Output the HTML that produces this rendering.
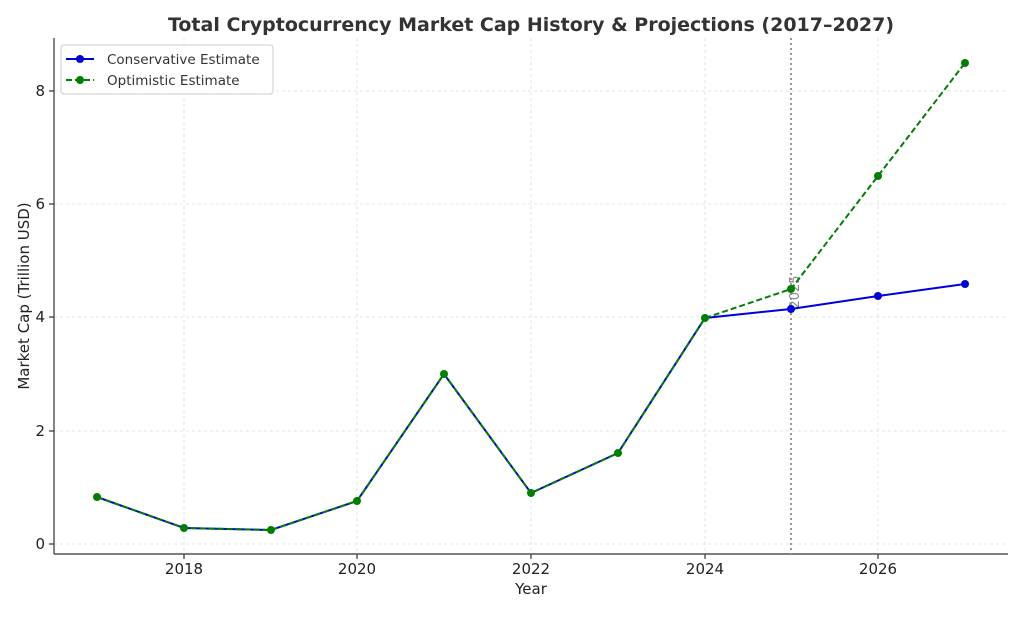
<!DOCTYPE html>
<html><head><meta charset="utf-8"><style>
body{margin:0;background:#fff;}
svg text{font-family:"DejaVu Sans","Liberation Sans",sans-serif;}
</style></head><body>
<svg width="1024" height="614" viewBox="0 0 1024 614" xmlns="http://www.w3.org/2000/svg">
<rect width="1024" height="614" fill="#fff"/>
<text x="531" y="31" text-anchor="middle" font-size="19" font-weight="bold" fill="#333">Total Cryptocurrency Market Cap History &amp; Projections (2017–2027)</text>
<g stroke="#ddd" stroke-width="0.8" stroke-dasharray="3,3">
<line x1="184" y1="38" x2="184" y2="554"/><line x1="357" y1="38" x2="357" y2="554"/>
<line x1="531" y1="38" x2="531" y2="554"/><line x1="705" y1="38" x2="705" y2="554"/>
<line x1="878" y1="38" x2="878" y2="554"/>
<line x1="54" y1="544" x2="1008" y2="544"/><line x1="54" y1="431" x2="1008" y2="431"/>
<line x1="54" y1="317" x2="1008" y2="317"/><line x1="54" y1="204" x2="1008" y2="204"/>
<line x1="54" y1="91" x2="1008" y2="91"/>
</g>
<g stroke="#333" stroke-width="1.2">
<line x1="54" y1="38" x2="54" y2="554"/><line x1="54" y1="554" x2="1008" y2="554"/>
<line x1="184" y1="554" x2="184" y2="559"/><line x1="357" y1="554" x2="357" y2="559"/>
<line x1="531" y1="554" x2="531" y2="559"/><line x1="705" y1="554" x2="705" y2="559"/>
<line x1="878" y1="554" x2="878" y2="559"/>
<line x1="49" y1="544" x2="54" y2="544"/><line x1="49" y1="431" x2="54" y2="431"/>
<line x1="49" y1="317" x2="54" y2="317"/><line x1="49" y1="204" x2="54" y2="204"/>
<line x1="49" y1="91" x2="54" y2="91"/>
</g>
<g font-size="15" fill="#222" text-anchor="middle">
<text x="184" y="574">2018</text><text x="357" y="574">2020</text><text x="531" y="574">2022</text>
<text x="705" y="574">2024</text><text x="878" y="574">2026</text>
</g>
<g font-size="15" fill="#222" text-anchor="end">
<text x="45" y="549">0</text><text x="45" y="436">2</text><text x="45" y="322">4</text>
<text x="45" y="209">6</text><text x="45" y="96">8</text>
</g>
<text x="531" y="594" text-anchor="middle" font-size="15" fill="#222">Year</text>
<text transform="translate(29,296) rotate(-90)" text-anchor="middle" font-size="15" fill="#222">Market Cap (Trillion USD)</text>
<line x1="791" y1="38" x2="791" y2="554" stroke="#999" stroke-width="2" stroke-dasharray="2,3"/>
<text transform="translate(799,292) rotate(-90)" text-anchor="middle" font-size="13" fill="#888">2025</text>
<polyline fill="none" stroke="#0000dd" stroke-width="2" points="97,497 184,528 271,530 357,501 444,374 531,493 618,453 705,318 791,309 878,296 965,284"/>
<g fill="#0000dd"><circle cx="791" cy="309" r="4"/><circle cx="878" cy="296" r="4"/><circle cx="965" cy="284" r="4"/></g>
<polyline fill="none" stroke="#007f00" stroke-width="2" stroke-dasharray="6,3" points="97,497 184,528 271,530 357,501 444,374 531,493 618,453 705,318 791,289 878,176 965,63"/>
<g fill="#007f00"><circle cx="97" cy="497" r="4"/><circle cx="184" cy="528" r="4"/><circle cx="271" cy="530" r="4"/><circle cx="357" cy="501" r="4"/><circle cx="444" cy="374" r="4"/><circle cx="531" cy="493" r="4"/><circle cx="618" cy="453" r="4"/><circle cx="705" cy="318" r="4"/><circle cx="791" cy="289" r="4"/><circle cx="878" cy="176" r="4"/><circle cx="965" cy="63" r="4"/></g>
<rect x="61" y="45" width="212" height="49" rx="3" fill="#fff" fill-opacity="0.85" stroke="#ccc"/>
<line x1="66" y1="59" x2="94" y2="59" stroke="#0000dd" stroke-width="2"/><circle cx="80" cy="59" r="4" fill="#0000dd"/>
<line x1="66" y1="80" x2="94" y2="80" stroke="#007f00" stroke-width="2" stroke-dasharray="6,3"/><circle cx="80" cy="80" r="4" fill="#007f00"/>
<text x="107" y="64" font-size="13.5" fill="#333">Conservative Estimate</text>
<text x="107" y="85" font-size="13.5" fill="#333">Optimistic Estimate</text>
</svg>
</body></html>
